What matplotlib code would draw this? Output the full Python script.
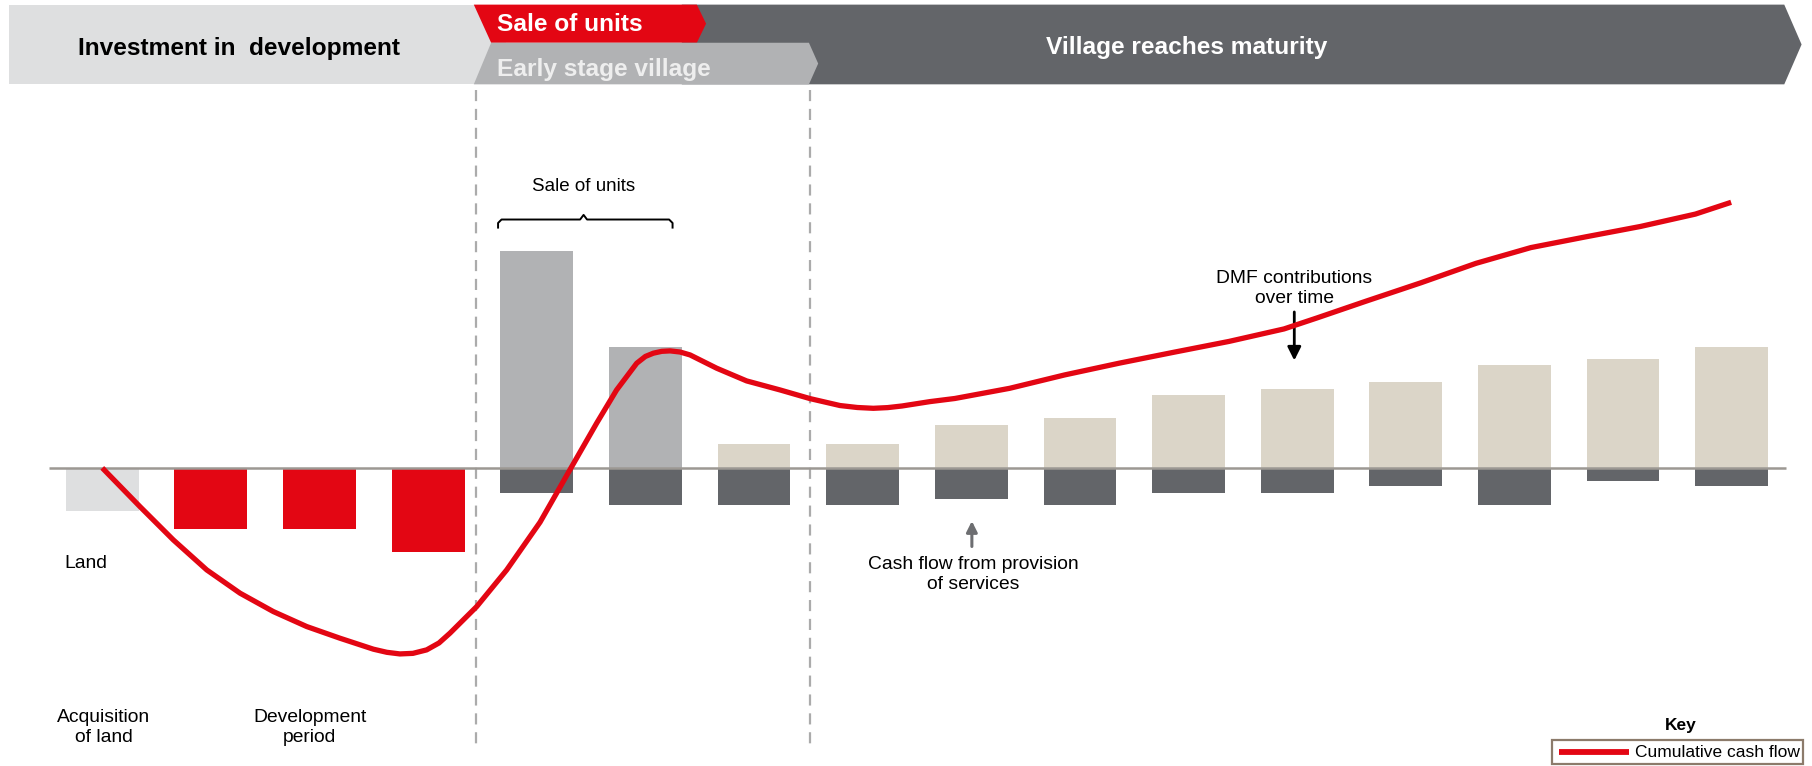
import matplotlib
matplotlib.use("Agg")
import matplotlib.pyplot as plt
from matplotlib import font_manager as fm
from matplotlib.patches import Polygon, Rectangle

# ---------------- data ----------------
periods = list(range(16))
inflows = [0, 0, 0, 0, 188, 105, 21, 21, 37, 43, 63, 68, 74, 89, 94, 105]
outflows = [-37, -53, -53, -73, -22, -32, -32, -32, -27, -32, -22, -22, -16, -32, -11, -16]
inflow_colors = ["#B1B2B4"] * 6 + ["#DBD5C8"] * 10
outflow_colors = ["#DEDFE0"] + ["#E30613"] * 3 + ["#636569"] * 12

# cumulative cash flow curve (period, value)
cum_x = [0.0, 0.347, 0.654, 0.962, 1.268, 1.574, 1.882, 2.188, 2.496, 2.620, 2.740,
         2.860, 2.986, 3.100, 3.201, 3.447, 3.723, 4.030, 4.321, 4.551, 4.735, 4.920,
         5.000, 5.073, 5.150, 5.227, 5.320, 5.411, 5.656, 5.932, 6.239, 6.515, 6.791,
         6.950, 7.098, 7.230, 7.362, 7.620, 7.849, 8.353, 8.860, 9.364, 9.869, 10.373,
         10.879, 11.182, 11.636, 12.141, 12.647, 13.151, 13.656, 14.161, 14.666, 14.995]
cum_y = [0, -33.5, -62.3, -88.3, -108.4, -124.3, -137.3, -147.4, -156.9, -159.6, -161,
         -160.5, -157.5, -151.5, -143, -120, -88.3, -47, 1, 38.7, 67.5, 90.6,
         96.5, 99.3, 100.9, 101.3, 100.3, 97.8, 86.3, 75.3, 67.5, 60, 54,
         52.3, 51.6, 52.2, 53.6, 57.4, 60.1, 68.9, 80.5, 90.7, 100.2, 109.5,
         120.3, 129.8, 144.4, 160.3, 177.1, 190.7, 200, 209, 219.7, 229.9]

stage_labels = ["Investment in  development", "Sale of units", "Early stage village",
                "Village reaches maturity"]

# ---------------- fonts ----------------
names = {f.name for f in fm.fontManager.ttflist}
REG = "Liberation Sans" if "Liberation Sans" in names else "DejaVu Sans"
if "Liberation Sans Narrow" in names:
    NARROW, nscale = "Liberation Sans Narrow", 1.0
else:
    NARROW, nscale = REG, 0.84

# ---------------- figure ----------------
W, H = 1568.0, 663.0  # design coordinate space (scaled to 1812x766)
fig = plt.figure(figsize=(18.12, 7.66), dpi=100)
fig.patch.set_facecolor("white")

# decoration axes in design pixel coordinates
deco = fig.add_axes([0, 0, 1, 1])
deco.set_xlim(0, W)
deco.set_ylim(H, 0)
deco.axis("off")

# main data axes
X0, DX, Y0 = 88.5, 94.0, 405.0
ax = fig.add_axes([0, 0, 1, 1])
ax.set_xlim(-X0 / DX, (W - X0) / DX)
ax.set_ylim(-(H - Y0), Y0)
ax.axis("off")
ax.patch.set_alpha(0)

# ---------------- header ----------------
LGREY, DGREY, MGREY, RED = "#DEDFE0", "#636569", "#B1B2B4", "#E30613"
deco.add_patch(Rectangle((8, 4), 430, 69, facecolor=LGREY, edgecolor="none"))
deco.add_patch(Polygon([(590, 4), (1544, 4), (1559, 38.5), (1544, 73), (590, 73)],
                       closed=True, facecolor=DGREY, edgecolor="none"))
deco.add_patch(Polygon([(410, 4), (603, 4), (611, 20.5), (603, 37), (425, 37)],
                       closed=True, facecolor=RED, edgecolor="none"))
deco.add_patch(Polygon([(425, 37), (700, 37), (708, 55), (700, 73), (410, 73)],
                       closed=True, facecolor=MGREY, edgecolor="none"))

hfs = 21 * nscale
deco.text(207, 42, stage_labels[0], fontsize=hfs, fontweight="bold", family=NARROW,
          color="black", ha="center", va="center")
deco.text(430, 21.5, stage_labels[1], fontsize=hfs, fontweight="bold", family=NARROW,
          color="white", ha="left", va="center")
deco.text(430, 60, stage_labels[2], fontsize=hfs, fontweight="bold", family=NARROW,
          color="#EEEEEE", ha="left", va="center")
deco.text(1027, 41.5, stage_labels[3], fontsize=hfs, fontweight="bold", family=NARROW,
          color="white", ha="center", va="center")

# dashed stage separators
for xs in (412, 701):
    deco.plot([xs, xs], [78, 650], color="#ABABAB", lw=1.6, linestyle=(0, (5, 3.5)), zorder=1)

# ---------------- bars ----------------
bw = 63.0 / DX
ax.bar(periods, inflows, width=bw, color=inflow_colors, zorder=2)
ax.bar(periods, outflows, width=bw, color=outflow_colors, zorder=2)
ax.hlines(0, -0.495, 15.5, color="#9C9893", lw=1.8, zorder=3)

# cumulative line
ax.plot(cum_x, cum_y, color=RED, lw=3.8, solid_joinstyle="round",
        solid_capstyle="butt", zorder=5)

# ---------------- annotations ----------------
bfs = 16.5 * nscale
ls = 1.25
deco.text(74, 488, "Land", fontsize=bfs, family=NARROW, ha="center", va="center")
deco.text(90, 630, "Acquisition\nof land", fontsize=bfs, family=NARROW, ha="center",
          va="center", linespacing=ls)
deco.text(268, 630, "Development\nperiod", fontsize=bfs, family=NARROW, ha="center",
          va="center", linespacing=ls)
deco.text(842, 497.5, "Cash flow from provision\nof services", fontsize=bfs, family=NARROW,
          ha="center", va="center", linespacing=ls)
deco.text(1120, 250, "DMF contributions\nover time", fontsize=bfs, family=NARROW,
          ha="center", va="center", linespacing=ls)

# Sale of units brace
deco.text(505, 161, "Sale of units", fontsize=13.5, family=REG, ha="center", va="center")
deco.plot([431, 431, 434, 502, 505, 508, 579, 582, 582],
          [197, 193, 190, 190, 186, 190, 190, 193, 197], color="black", lw=1.4)

# arrows
deco.annotate("", xy=(841, 451), xytext=(841, 473),
              arrowprops=dict(arrowstyle="-|>", color="#6D6E71", lw=2.2, mutation_scale=16,
                              shrinkA=0, shrinkB=0))
deco.annotate("", xy=(1120, 312), xytext=(1120, 270),
              arrowprops=dict(arrowstyle="-|>", color="black", lw=2.0, mutation_scale=20,
                              shrinkA=0, shrinkB=0))

# legend / key
deco.text(1454, 628, "Key", fontsize=12.5, fontweight="bold", family=REG,
          ha="center", va="center")
deco.add_patch(Rectangle((1343, 640.5), 217, 20.5, facecolor="white", edgecolor="#8C7B6B", lw=1.6))
deco.plot([1349, 1410], [651, 651], color=RED, lw=4.2, solid_capstyle="butt")
deco.text(1415, 651.5, "Cumulative cash flow", fontsize=12.5, family=REG,
          ha="left", va="center")

fig.savefig("out.png", dpi=100, facecolor="white")
